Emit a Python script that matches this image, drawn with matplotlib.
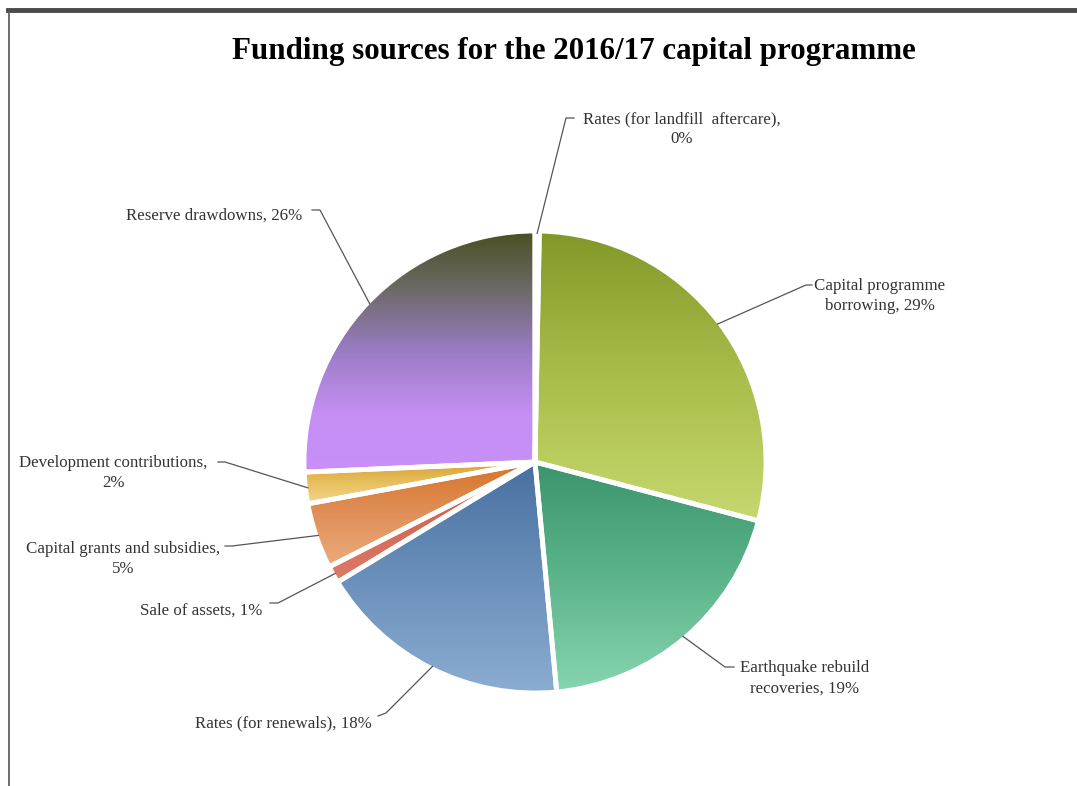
import numpy as np
import matplotlib
matplotlib.use("Agg")
import matplotlib.pyplot as plt
from matplotlib.colors import LinearSegmentedColormap
from matplotlib.lines import Line2D

# funding shares (percent), clockwise from 12 o'clock
sources = ["Rates (for landfill  aftercare)", "Capital programme\nborrowing",
           "Earthquake rebuild\nrecoveries", "Rates (for renewals)", "Sale of assets",
           "Capital grants and subsidies", "Development contributions", "Reserve drawdowns"]
shares = [0.3, 28.8, 19.4, 17.8, 1.2, 4.6, 2.2, 25.7]
# True puts the percentage on its own line
pct_newline = [True, False, False, False, False, True, True, False]

# gradient stops (top -> bottom) per slice
gradients = [
    ["#8fa6c8", "#b0c4e0"],
    ["#819828", "#a9bd4a", "#c6d86e"],
    ["#3b946c", "#5cb48a", "#86d6b0"],
    ["#4870a0", "#6a8fba", "#8cadd2"],
    ["#cc5646", "#de7a68"],
    ["#d67426", "#e0905a", "#ecac7c"],
    ["#d6a232", "#e8c060", "#f2d688"],
    ["#485020", "#6e6a6a", "#9a7cc4", "#c48ef2", "#c890f8"],
]

# label placement in pixels: text centre (x, y of first line), elbow, end of leader
label_px = [(682, 118), (880, 285), (805, 667), (283, 722),
            (201, 610), (123, 548), (113, 462), (214, 215)]
elbow_px = [(566, 118), (806, 285), (725, 667), (386, 713),
            (278, 603), (232, 546), (225, 462), (320, 210)]
end_px = [(574, 118), (812, 285), (734, 667), (378, 716),
          (270, 603), (225, 546), (218, 462), (312, 210)]

W, H = 1077, 786
CX, CY, R = 535, 462, 231
LINE_H = 20  # px between label lines


def to_data(p):
    return (p[0] - CX) / R, (CY - p[1]) / R


fig = plt.figure(figsize=(W / 100, H / 100), dpi=100)
ax = fig.add_axes([0, 0, 1, 1])

wedges, _ = ax.pie(shares, startangle=90, counterclock=False, radius=1,
                   wedgeprops=dict(facecolor="none", edgecolor="white", linewidth=3.5))

for w, stops in zip(wedges, gradients):
    w.set_zorder(3)
    t = np.radians(np.linspace(w.theta1, w.theta2, 100))
    ys = np.concatenate([np.sin(t), [0]])
    xs = np.concatenate([np.cos(t), [0]])
    cmap = LinearSegmentedColormap.from_list("g", stops)
    grad = np.linspace(0, 1, 256).reshape(-1, 1)
    im = ax.imshow(grad, cmap=cmap, aspect="auto", origin="upper",
                   extent=(xs.min(), xs.max(), ys.min(), ys.max()), zorder=2)
    im.set_clip_path(w)

txt_color = "#333333"
for w, name, share, nl, lp, ep, np_ in zip(wedges, sources, shares, pct_newline,
                                           label_px, elbow_px, end_px):
    mid = np.radians((w.theta1 + w.theta2) / 2)
    sx, sy = np.cos(mid) * 0.99, np.sin(mid) * 0.99
    ex, ey = to_data(ep)
    nx, ny = to_data(np_)
    ax.plot([sx, ex, nx], [sy, ey, ny], color="#555555", lw=0.9, zorder=4)
    pct = f"{round(share):d}%"
    label = f"{name},\n{pct}" if nl else f"{name}, {pct}"
    tx, ty = to_data(lp)
    ax.text(tx, ty + 0.5 * LINE_H / R - 3 / R, label, ha="center", va="top",
            fontsize=12.2, family="Liberation Serif", color=txt_color,
            linespacing=1.35, zorder=5)

ax.set_xlim(-CX / R, (W - CX) / R)
ax.set_ylim(-(H - CY) / R, CY / R)
ax.set_aspect("equal")
ax.axis("off")

fig.text(574 / W, 1 - 51 / H, "Funding sources for the 2016/17 capital programme",
         ha="center", va="center", fontsize=22.3, fontweight="bold",
         family="Liberation Serif", color="black")

# frame edges of the captured chart
fig.add_artist(Line2D([8 / W, 1], [1 - 10 / H, 1 - 10 / H], transform=fig.transFigure,
                      color="#4a4a4a", lw=3.5))
fig.add_artist(Line2D([9 / W, 9 / W], [0, 1 - 10 / H], transform=fig.transFigure,
                      color="#555555", lw=1.2))

fig.savefig("out.png", dpi=100, facecolor="white")
